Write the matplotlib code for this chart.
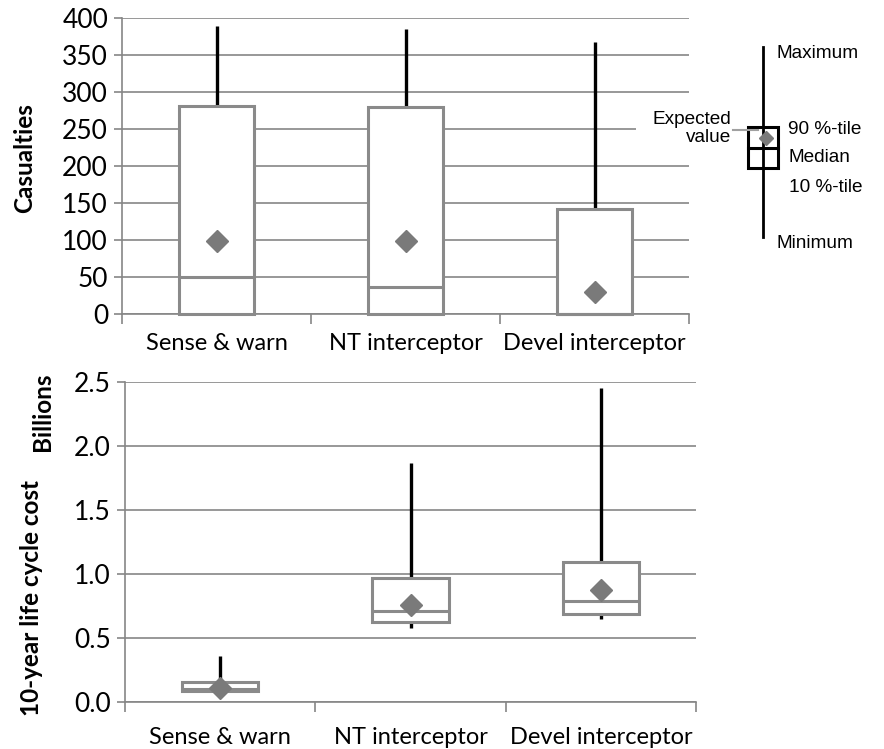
import matplotlib
matplotlib.use("Agg")
import matplotlib.pyplot as plt
from matplotlib.patches import Rectangle

plt.rcParams['font.family'] = ['Lato', 'DejaVu Sans']

categories = ["Sense & warn", "NT interceptor", "Devel interceptor"]

# casualties
cas_min = [0, 0, 0]
cas_p10 = [0, 0, 0]
cas_median = [50, 36, 0]
cas_p90 = [280, 279, 141]
cas_max = [388, 385, 367]
cas_mean = [99, 99, 30]

# 10-year life cycle cost, billions
cost_min = [0.085, 0.58, 0.65]
cost_p10 = [0.085, 0.62, 0.685]
cost_median = [0.10, 0.71, 0.79]
cost_p90 = [0.155, 0.965, 1.095]
cost_max = [0.357, 1.87, 2.456]
cost_mean = [0.107, 0.76, 0.873]

GRID = '#868686'
BOX = '#8a8a8a'
MEAN = '#7a7a7a'
FS = 17
TFS = 19

fig = plt.figure(figsize=(8.84, 7.49), dpi=100)
W, H = 884, 749


def px_axes(left, top, right, bottom):
    return fig.add_axes([left / W, 1 - bottom / H, (right - left) / W, (bottom - top) / H])


def draw_boxes(ax, mins, p10, med, p90, maxs, means):
    x = list(range(1, len(categories) + 1))
    ax.vlines(x, mins, maxs, colors='black', linewidth=2.4, zorder=2)
    heights = [b - a for a, b in zip(p10, p90)]
    ax.bar(x, heights, bottom=p10, width=0.4, color='white', edgecolor=BOX,
           linewidth=2.2, zorder=3, clip_on=False)
    ax.hlines(med, [i - 0.2 for i in x], [i + 0.2 for i in x], colors=BOX,
              linewidth=2.2, zorder=4, clip_on=False)
    ax.plot(x, means, linestyle='none', marker='D', markersize=11.5,
            color=MEAN, zorder=5)
    ax.set_xlim(0.5, 3.5)
    ax.set_xticks(x)
    ax.set_xticklabels(categories, fontsize=FS)
    ax.set_xticks([0.5, 1.5, 2.5, 3.5], minor=True)
    ax.tick_params(axis='x', which='major', length=0, pad=14)
    ax.tick_params(axis='x', which='minor', length=7, width=1.2, color=GRID)
    ax.tick_params(axis='y', length=6, width=1.2, color=GRID, labelsize=TFS, pad=4)
    ax.yaxis.grid(True, color=GRID, linewidth=1.2)
    ax.set_axisbelow(True)
    for s in ['top', 'right']:
        ax.spines[s].set_visible(False)
    for s in ['left', 'bottom']:
        ax.spines[s].set_color(GRID)
        ax.spines[s].set_linewidth(1.2)


ax1 = px_axes(122, 17.5, 689, 314)
draw_boxes(ax1, cas_min, cas_p10, cas_median, cas_p90, cas_max, cas_mean)
ax1.set_ylim(0, 400)
ax1.set_yticks(range(0, 401, 50))

ax2 = px_axes(125, 382.3, 696, 701.7)
draw_boxes(ax2, cost_min, cost_p10, cost_median, cost_p90, cost_max, cost_mean)
ax2.set_ylim(0, 2.5)
ax2.set_yticks([0, 0.5, 1.0, 1.5, 2.0, 2.5])
ax2.set_yticklabels(['0.0', '0.5', '1.0', '1.5', '2.0', '2.5'])
ax2.tick_params(axis='x', which='major', pad=18)

fig.text(25 / W, 1 - 158 / H, 'Casualties', rotation=90, fontsize=17.5,
         fontweight='bold', ha='center', va='center')
fig.text(42 / W, 1 - 412 / H, 'Billions', rotation=90, fontsize=17.5,
         fontweight='bold', ha='center', va='center')
fig.text(32 / W, 1 - 598 / H, '10-year life cycle cost', rotation=90, fontsize=17.5,
         fontweight='bold', ha='center', va='center')

# key (pixel coordinates overlay)
ov = fig.add_axes([0, 0, 1, 1], zorder=10)
ov.set_xlim(0, W)
ov.set_ylim(H, 0)
ov.axis('off')
ov.patch.set_alpha(0)
ov.add_patch(Rectangle((636, 112), 60, 32, facecolor='white', edgecolor='none'))
ov.plot([763.3, 763.3], [46.7, 236.7], color='black', linewidth=2)
ov.add_patch(Rectangle((748.3, 126.7), 29.4, 41, facecolor='white',
                       edgecolor='black', linewidth=2.2))
ov.plot([748.3, 777.7], [147.7, 147.7], color='black', linewidth=2.2)
ov.plot([733, 758], [130, 130], color='#a0a0a0', linewidth=1.5)
ov.plot([765.7], [138.3], marker='D', markersize=7.6, color=MEAN, linestyle='none')
lf = dict(family=['Liberation Sans', 'DejaVu Sans'], fontsize=13.7)
ov.text(777, 53, 'Maximum', ha='left', va='center', **lf)
ov.text(788, 129, '90 %-tile', ha='left', va='center', **lf)
ov.text(788, 157, 'Median', ha='left', va='center', **lf)
ov.text(789, 188, '10 %-tile', ha='left', va='center', **lf)
ov.text(777, 243, 'Minimum', ha='left', va='center', **lf)
ov.text(731, 119, 'Expected', ha='right', va='center', **lf)
ov.text(731, 137, 'value', ha='right', va='center', **lf)

fig.savefig('out.png', dpi=100)
